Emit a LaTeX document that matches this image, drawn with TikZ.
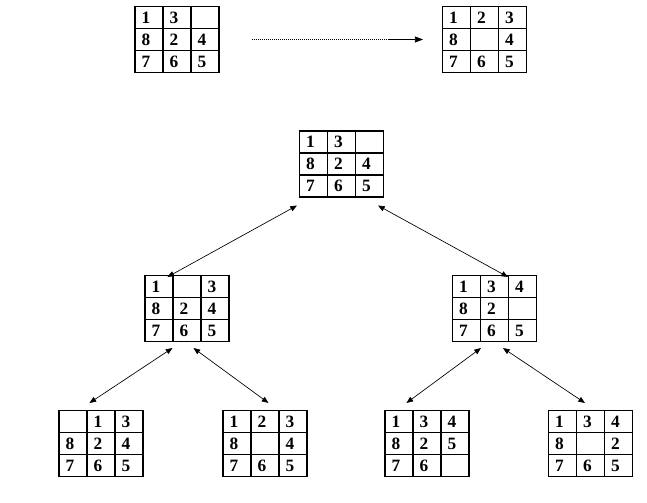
\documentclass[tikz,border=0pt]{standalone}
\usepackage{fontspec}
\setmainfont{Liberation Serif}
\usepackage{tikz}
\usetikzlibrary{matrix}
\usetikzlibrary{calc}
\usetikzlibrary{arrows.meta}

\begin{document}
\begin{tikzpicture}[x=0.75pt, y=-0.75pt,
        puzzle/.style={matrix of nodes, nodes in empty cells, inner sep=0pt, outer sep=0pt,
            row sep=-0.8pt, column sep=-0.8pt,
            nodes={draw, line width=0.8pt, minimum height=16.5pt, inner xsep=5pt, inner ysep=4pt,
                text height=8.5pt, text depth=0pt, text width=11pt, align=left,
                font=\bfseries\fontsize{13pt}{15pt}\selectfont}},
        move/.style={line width=0.5pt, {Triangle[length=5pt,width=4pt]}-{Triangle[length=5pt,width=4pt]}}]
        \useasboundingbox (0,0) rectangle (647,503);
        % start and goal
        \matrix (start) [puzzle] at (177,39.5) {1 & 3 & \\ 8 & 2 & 4 \\ 7 & 6 & 5 \\};
        \matrix (goal) [puzzle] at (484.5,39.5) {1 & 2 & 3 \\ 8 & & 4 \\ 7 & 6 & 5 \\};
        \coordinate (dots) at ($(start.east)+(32,0)$);
        \coordinate (solid) at ($(start.east)+(168,0)$);
        \draw [line width=0.5pt, densely dotted] (dots) -- (solid);
        \draw [line width=0.5pt, -{Triangle[length=6pt,width=4.5pt]}] (solid) -- ($(goal.west)+(-19,0)$);
        % search tree
        \matrix (root) [puzzle] at (341.5,164) {1 & 3 & \\ 8 & 2 & 4 \\ 7 & 6 & 5 \\};
        \matrix (mvleft) [puzzle] at (187,308.5) {1 & & 3 \\ 8 & 2 & 4 \\ 7 & 6 & 5 \\};
        \matrix (mvright) [puzzle] at (494.5,308.5) {1 & 3 & 4 \\ 8 & 2 & \\ 7 & 6 & 5 \\};
        \matrix (ll) [puzzle] at (101,443.5) { & 1 & 3 \\ 8 & 2 & 4 \\ 7 & 6 & 5 \\};
        \matrix (lr) [puzzle] at (265,443.5) {1 & 2 & 3 \\ 8 & & 4 \\ 7 & 6 & 5 \\};
        \matrix (rl) [puzzle] at (427,443.5) {1 & 3 & 4 \\ 8 & 2 & 5 \\ 7 & 6 & \\};
        \matrix (rr) [puzzle] at (590.5,443.5) {1 & 3 & 4 \\ 8 & & 2 \\ 7 & 6 & 5 \\};
        \draw [move] ($(root.south west)+(-2,8)$) -- ($(mvleft.north west)+(23,2)$);
        \draw [move] ($(root.south east)+(-6,8)$) -- ($(mvright.north west)+(56,2)$);
        \draw [move] ($(mvleft.south west)+(28,6)$) -- ($(ll.north west)+(31,-7)$);
        \draw [move] ($(mvleft.south west)+(49,6)$) -- ($(lr.north west)+(46,-7)$);
        \draw [move] ($(mvright.south west)+(29,6)$) -- ($(rl.north west)+(22,-7)$);
        \draw [move] ($(mvright.south west)+(51,6)$) -- ($(rr.north west)+(37,-7)$);
    \end{tikzpicture}
\end{document}
